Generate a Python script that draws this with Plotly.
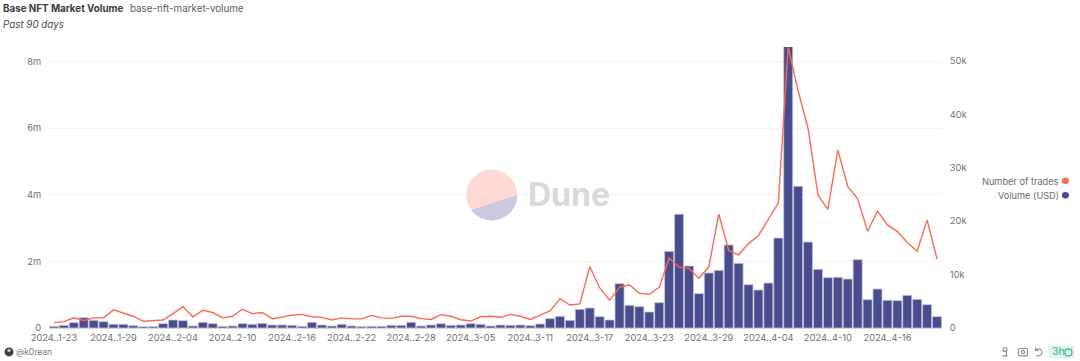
import base64
import pandas as pd
import plotly.graph_objects as go

W, H = 1080, 361
L, R, T, B = 49, 137.5, 46.5, 32.5
PW, PH = W - L - R, H - T - B

dates = pd.date_range("2024-01-23", periods=90).strftime("%Y-%m-%d").tolist()

volume_m = [
    0.05, 0.08, 0.16, 0.31, 0.23, 0.19, 0.11, 0.11, 0.07, 0.04,
    0.04, 0.13, 0.24, 0.22, 0.06, 0.17, 0.13, 0.05, 0.06, 0.13,
    0.11, 0.14, 0.09, 0.09, 0.08, 0.05, 0.17, 0.09, 0.06, 0.11,
    0.06, 0.04, 0.05, 0.05, 0.08, 0.08, 0.17, 0.06, 0.09, 0.13,
    0.08, 0.09, 0.13, 0.11, 0.06, 0.09, 0.08, 0.09, 0.07, 0.12,
    0.28, 0.35, 0.23, 0.56, 0.60, 0.34, 0.24, 1.33, 0.68, 0.64,
    0.48, 0.76, 2.30, 3.41, 1.86, 1.03, 1.65, 1.73, 2.49, 1.94,
    1.30, 1.14, 1.35, 2.70, 8.60, 4.25, 2.58, 1.76, 1.51, 1.52,
    1.47, 2.05, 0.85, 1.17, 0.83, 0.82, 0.98, 0.86, 0.70, 0.34,
]
trades_k = [
    1.0, 1.2, 1.9, 1.4, 1.9, 1.9, 3.4, 2.8, 2.2, 1.25,
    1.4, 1.5, 2.7, 4.0, 2.1, 3.3, 2.9, 1.9, 2.2, 3.5,
    2.7, 2.9, 1.7, 2.05, 2.4, 2.55, 2.1, 2.0, 1.5, 1.9,
    1.7, 1.7, 2.35, 1.9, 1.8, 2.2, 2.2, 1.75, 1.6, 2.5,
    2.2, 1.55, 1.3, 2.1, 2.2, 2.0, 2.55, 2.2, 1.6, 2.4,
    3.2, 5.5, 4.3, 4.5, 11.5, 7.5, 5.2, 7.6, 8.1, 6.5,
    6.3, 7.6, 13.1, 11.4, 11.15, 9.3, 11.45, 21.3, 14.5, 13.7,
    15.8, 17.3, 20.3, 23.4, 52.6, 44.4, 37.4, 24.9, 22.2, 33.3,
    26.5, 24.2, 18.1, 21.9, 19.3, 18.1, 16.0, 14.4, 20.2, 12.9,
]
tick_dates = ["2024-01-23", "2024-01-29", "2024-02-04", "2024-02-10", "2024-02-16",
              "2024-02-22", "2024-02-28", "2024-03-05", "2024-03-11", "2024-03-17",
              "2024-03-23", "2024-03-29", "2024-04-04", "2024-04-10", "2024-04-16"]
tick_labels = ["2024..1-23", "2024..1-29", "2024..2-04", "2024..2-10", "2024..2-16",
               "2024..2-22", "2024..2-28", "2024..3-05", "2024..3-11", "2024..3-17",
               "2024..3-23", "2024..3-29", "2024..4-04", "2024..4-10", "2024..4-16"]
left_ticks = [0, 2, 4, 6, 8]
left_labels = ["0", "2m", "4m", "6m", "8m"]
right_ticks = [0, 10, 20, 30, 40, 50]
right_labels = ["0", "10k", "20k", "30k", "40k", "50k"]

FONT = "Inter, 'Noto Sans', sans-serif"
GREY = "#707070"
NAVY = "#4A4D8D"
RED = "#FB6A50"


def px(x):
    return (x - L) / PW


def py(y):
    return 1 - (y - T) / PH


def svg_uri(svg):
    return "data:image/svg+xml;base64," + base64.b64encode(svg.encode()).decode()


fig = go.Figure()
fig.add_bar(x=dates, y=volume_m, yaxis="y", name="Volume (USD)",
            marker=dict(color=NAVY, line=dict(color="#C3C4DE", width=0.8)))
fig.add_scatter(x=dates, y=trades_k, yaxis="y2", mode="lines", name="Number of trades",
                line=dict(color=RED, width=1.4))

pie = ("<svg xmlns='http://www.w3.org/2000/svg' width='52' height='52' viewBox='0 0 52 52'>"
       "<circle cx='26' cy='26' r='25.5' fill='#FFD3CD' fill-opacity='0.85'/>"
       "<path d='M51.5 26 A25.5 25.5 0 0 1 5.4 41 Z' fill='#CBCBDF'/></svg>")
avatar = ("<svg xmlns='http://www.w3.org/2000/svg' width='10' height='10' viewBox='0 0 10 10'>"
          "<circle cx='5' cy='5' r='4.5' fill='#3A4148'/><circle cx='5' cy='3.6' r='1.7' fill='#B9BEC2'/></svg>")
icons = ("<svg xmlns='http://www.w3.org/2000/svg' width='52' height='12' viewBox='0 0 52 12' fill='none' "
         "stroke='#8A8A8A' stroke-width='1.1'>"
         "<circle cx='4.5' cy='3.5' r='2'/><path d='M2 10 h5 M6 6 v4'/>"
         "<rect x='18' y='2.5' width='9' height='7.5' rx='1.5'/><circle cx='22.5' cy='6.2' r='1.7'/>"
         "<path d='M35 3 h4 a3.6 3.6 0 1 1 -3 6.5 M35 1.5 v3 h3'/></svg>")

images = [
    dict(source=svg_uri(pie), xref="paper", yref="paper", x=px(466), y=py(169), sizex=52 / PW, sizey=52 / PH,
         xanchor="left", yanchor="top", sizing="stretch", layer="above"),
    dict(source=svg_uri(avatar), xref="paper", yref="paper", x=px(4), y=py(347.5), sizex=10 / PW, sizey=10 / PH,
         xanchor="left", yanchor="top", sizing="stretch", layer="above"),
    dict(source=svg_uri(icons), xref="paper", yref="paper", x=px(1001), y=py(346.5), sizex=52 / PW, sizey=12 / PH,
         xanchor="left", yanchor="top", sizing="stretch", layer="above"),
]


def note(x, y, text, size=9.8, color=GREY, anchor="left"):
    return dict(x=px(x), y=py(y), xref="paper", yref="paper", text=text, showarrow=False,
                xanchor=anchor, yanchor="middle", align=anchor, borderpad=0, borderwidth=0,
                font=dict(size=size, color=color, family=FONT))


annotations = [
    note(3, 8, "<b>Base NFT Market Volume</b>", size=9.8, color="#3A3A3A"),
    note(130, 8, "base-nft-market-volume", size=9.8, color="#5C5C5C"),
    note(3, 24, "<i>Past 90 days</i>", size=9.8, color="#4A4A4A"),
    note(1059.5, 181, "Number of trades", size=9.2, color="#6A6A6A", anchor="right"),
    note(1059.5, 195.5, "Volume (USD)", size=9.2, color="#6A6A6A", anchor="right"),
    note(528, 195, "<b>Dune</b>", size=32, color="#D9D9D9"),
    note(16, 353, "@k0rean", size=8.5, color="#777777"),
    note(1052.5, 352.5, "3h", size=10.5, color="#35B785"),
]

shapes = [
    dict(type="circle", xref="paper", yref="paper", x0=px(1062.5), x1=px(1069.5), y0=py(184), y1=py(177.5),
         fillcolor=RED, line=dict(width=0)),
    dict(type="circle", xref="paper", yref="paper", x0=px(1062.5), x1=px(1069.5), y0=py(198.5), y1=py(192),
         fillcolor=NAVY, line=dict(width=0)),
    dict(type="rect", xref="paper", yref="paper", x0=px(1049), x1=px(1075), y0=py(358.5), y1=py(346.5),
         fillcolor="#DDF6EA", line=dict(width=0), layer="below"),
    dict(type="circle", xref="paper", yref="paper", x0=px(1065.5), x1=px(1072.5), y0=py(356.5), y1=py(349.5),
         fillcolor="rgba(0,0,0,0)", line=dict(width=1.2, color="#35B785")),
]

fig.update_layout(
    width=W, height=H, autosize=False,
    margin=dict(l=L, r=R, t=T, b=B, pad=0),
    paper_bgcolor="white", plot_bgcolor="white",
    showlegend=False, bargap=0.09,
    font=dict(family=FONT, size=9.3, color=GREY),
    xaxis=dict(type="category", categoryorder="array", categoryarray=dates, range=[-0.5, 89.5],
               tickmode="array", tickvals=tick_dates, ticktext=tick_labels, tickangle=0,
               showgrid=False, showline=True, linecolor="#D4D4D4", linewidth=1,
               ticks="outside", ticklen=1, tickcolor="rgba(0,0,0,0)",
               tickfont=dict(size=9.3, color=GREY)),
    yaxis=dict(range=[0, 8.43], tickmode="array", tickvals=left_ticks, ticktext=left_labels,
               showgrid=True, gridcolor="#F3F3F3", gridwidth=1, zeroline=False,
               ticks="outside", ticklen=5, tickcolor="rgba(0,0,0,0)",
               tickfont=dict(size=9.3, color=GREY)),
    yaxis2=dict(range=[0, 52.6], overlaying="y", side="right", tickmode="array",
                tickvals=right_ticks, ticktext=right_labels, showgrid=False, zeroline=False,
                ticks="outside", ticklen=5, tickcolor="rgba(0,0,0,0)",
                tickfont=dict(size=9.3, color=GREY)),
    annotations=annotations, shapes=shapes, images=images,
)

fig.write_html("out.html", config=dict(displayModeBar=False),
               post_script="document.body.style.margin='0';document.body.style.overflow='hidden';")
